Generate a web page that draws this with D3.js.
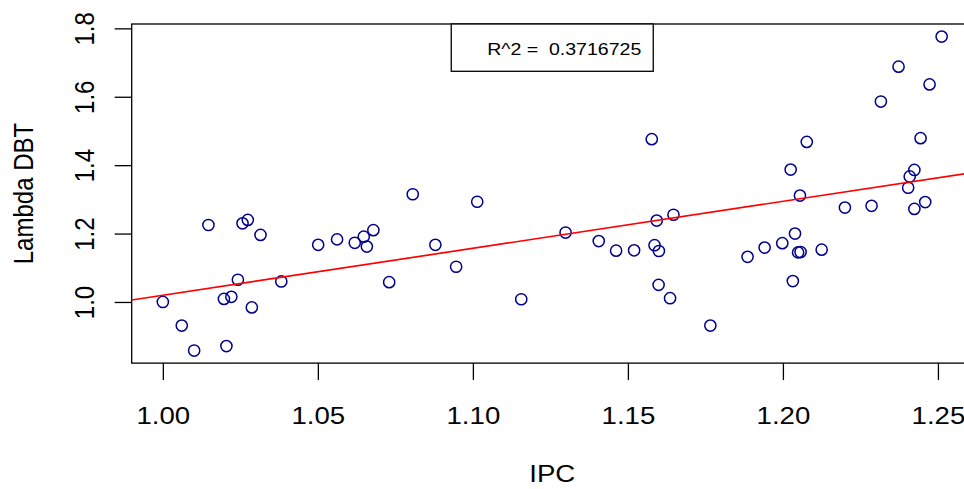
<!DOCTYPE html>
<html>
<head>
<meta charset="utf-8">
<script src="https://cdn.jsdelivr.net/npm/d3@7"></script>
<style>
    body { margin: 0; background: #fff; }
    svg { display: block; }
    text { font-family: "Liberation Sans", Arial, Helvetica, sans-serif; fill: #000; white-space: pre; }
</style>
</head>
<body>
<div id="scatter"></div>
<script>
'use strict';

/*
    IPC vs Lambda DBT scatter, with lm fit line (R base plot look)
*/

const ipc = [
    1.0000, 1.0061, 1.0101, 1.0147, 1.0197, 1.0205, 1.0221, 1.0242, 1.0257, 1.0274,
    1.0287, 1.0315, 1.0382, 1.0501, 1.0562, 1.0619, 1.0648, 1.0658, 1.0679, 1.0730,
    1.0806, 1.0879, 1.0946, 1.1014, 1.1156, 1.1299, 1.1406, 1.1462, 1.1520, 1.1586,
    1.1600, 1.1593, 1.1599, 1.1636, 1.1647, 1.1577, 1.1766, 1.1886, 1.1941, 1.1998,
    1.2039, 1.2049, 1.2057, 1.2032, 1.2055, 1.2125, 1.2200, 1.2286, 1.2404, 1.2424,
    1.2459, 1.2512, 1.2373, 1.2473, 1.2316, 1.2444, 1.2077, 1.2025, 1.2424, 1.2409
]
const lambdaDBT = [
    1.000, 0.931, 0.858, 1.225, 1.009, 0.871, 1.015, 1.065, 1.230, 1.240,
    0.984, 1.196, 1.060, 1.167, 1.183, 1.173, 1.191, 1.162, 1.210, 1.058,
    1.315, 1.167, 1.103, 1.293, 1.008, 1.203, 1.178, 1.150, 1.151, 1.166,
    1.149, 1.238, 1.050, 1.011, 1.255, 1.476, 0.931, 1.132, 1.159, 1.172,
    1.200, 1.145, 1.146, 1.061, 1.311, 1.153, 1.276, 1.281, 1.334, 1.272,
    1.292, 1.776, 1.688, 1.636, 1.586, 1.479, 1.468, 1.387, 1.386, 1.367
]
const xTicks = [1.00, 1.05, 1.10, 1.15, 1.20, 1.25]
const yTicks = [1.0, 1.2, 1.4, 1.6, 1.8]
const legendLabel = "R^2 =  0.3716725"
const xTitle = "IPC"
const yTitle = "Lambda DBT"

const width = 964,
    height = 489;
const margin = ({ top: 24, right: -8.8, bottom: 125.9, left: 131.7 })
// the picture is a little wider than tall, text gets stretched the same way
const stretch = 1.15

var svg = d3.select("#scatter").append("svg")
    .attr("width", width)
    .attr("height", height)

// R pads the data range by 4% on each side
const pad = (ext) => {
    const d = (ext[1] - ext[0]) * 0.04
    return [ext[0] - d, ext[1] + d]
}
var x = d3.scaleLinear()
    .domain(pad(d3.extent(ipc)))
    .range([margin.left, width - margin.right])
var y = d3.scaleLinear()
    .domain(pad(d3.extent(lambdaDBT)))
    .range([height - margin.bottom, margin.top])

const points = ipc.map((d, i) => ({ x: d, y: lambdaDBT[i] }))

// least squares fit
const mx = d3.mean(ipc),
    my = d3.mean(lambdaDBT)
const slope = d3.sum(points, d => (d.x - mx) * (d.y - my)) / d3.sum(points, d => (d.x - mx) ** 2)
const intercept = my - slope * mx

svg.append("clipPath")
    .attr("id", "plot-clip")
    .append("rect")
    .attr("x", x.range()[0])
    .attr("y", y.range()[1])
    .attr("width", x.range()[1] - x.range()[0])
    .attr("height", y.range()[0] - y.range()[1])

// x axis
var xAxis = svg.append("g")
    .attr("transform", `translate(0,${y.range()[0]})`)
    .call(d3.axisBottom(x).tickValues(xTicks).tickSize(17).tickFormat(d3.format(".2f")))
xAxis.select(".domain").remove()
xAxis.selectAll("line").attr("stroke", "#000").attr("stroke-width", 1.3)
xAxis.selectAll("text")
    .attr("x", 0)
    .attr("y", 61)
    .attr("dy", 0)
    .attr("font-size", 24)
    .attr("transform", `scale(${stretch},1)`)

// y axis
var yAxis = svg.append("g")
    .attr("transform", `translate(${x.range()[0]},0)`)
    .call(d3.axisLeft(y).tickValues(yTicks).tickSize(17).tickFormat(d3.format(".1f")))
yAxis.select(".domain").remove()
yAxis.selectAll("line").attr("stroke", "#000").attr("stroke-width", 1.3)
yAxis.selectAll("text")
    .attr("x", 0)
    .attr("y", 0)
    .attr("dy", 0)
    .attr("text-anchor", "middle")
    .attr("font-size", 24)
    .attr("transform", `translate(-37.7,0) scale(${stretch},1) rotate(-90)`)

// box round the plot
svg.append("rect")
    .attr("x", x.range()[0])
    .attr("y", y.range()[1])
    .attr("width", x.range()[1] - x.range()[0])
    .attr("height", y.range()[0] - y.range()[1])
    .attr("fill", "none")
    .attr("stroke", "#000")
    .attr("stroke-width", 1.3)

// axis titles
svg.append("text")
    .attr("transform", `translate(${(x.range()[0] + x.range()[1]) / 2},482) scale(${stretch},1)`)
    .attr("text-anchor", "middle")
    .attr("font-size", 24)
    .text(xTitle)
svg.append("text")
    .attr("transform", `translate(33,${(y.range()[0] + y.range()[1]) / 2}) scale(${stretch},1) rotate(-90)`)
    .attr("text-anchor", "middle")
    .attr("font-size", 24)
    .text(yTitle)

// points
svg.append("g")
    .selectAll("circle")
    .data(points)
    .enter().append("circle")
    .attr("cx", d => x(d.x))
    .attr("cy", d => y(d.y))
    .attr("r", 5.6)
    .attr("fill", "none")
    .attr("stroke", "#00008B")
    .attr("stroke-width", 1.5)

// fit line
const xd = x.domain()
svg.append("line")
    .attr("clip-path", "url(#plot-clip)")
    .attr("x1", x(xd[0]))
    .attr("y1", y(intercept + slope * xd[0]))
    .attr("x2", x(xd[1]))
    .attr("y2", y(intercept + slope * xd[1]))
    .attr("stroke", "#FF0000")
    .attr("stroke-width", 1.7)

// legend at top
var legend = svg.append("g")
    .attr("transform", `translate(${(x.range()[0] + x.range()[1]) / 2},${y.range()[1]})`)
legend.append("rect")
    .attr("x", -101)
    .attr("y", 0)
    .attr("width", 202)
    .attr("height", 47.3)
    .attr("fill", "#fff")
    .attr("stroke", "#000")
    .attr("stroke-width", 1.3)
legend.append("text")
    .attr("transform", `translate(89,31) scale(${stretch},1)`)
    .attr("text-anchor", "end")
    .attr("font-size", 17)
    .attr("xml:space", "preserve")
    .text(legendLabel)
</script>
</body>
</html>
